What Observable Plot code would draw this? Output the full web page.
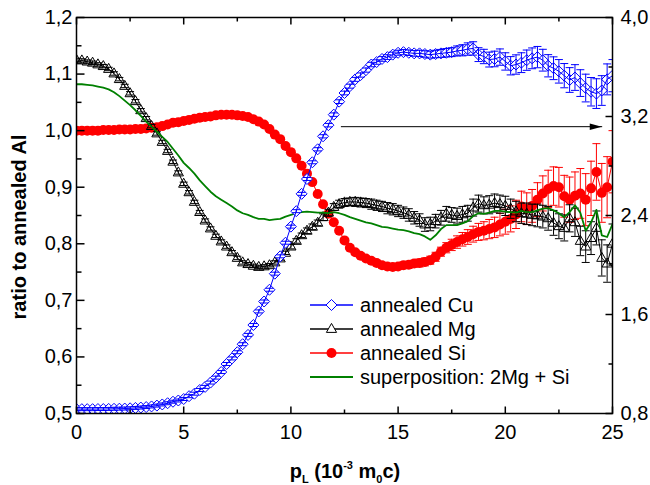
<!DOCTYPE html>
<html><head><meta charset="utf-8">
<script src="https://cdn.jsdelivr.net/npm/d3@7"></script>
<script src="https://cdn.jsdelivr.net/npm/@observablehq/plot@0.6"></script>
<style>body{margin:0;background:#fff}#chart{width:650px;height:485px}</style>
</head><body><div id="chart"></div>
<script>
// momentum p_L (10^-3 m0c)
const pL = [0,0.25,0.5,0.75,1,1.25,1.5,1.75,2,2.25,2.5,2.75,3,3.25,3.5,3.75,4,4.25,4.5,4.75,
5,5.25,5.5,5.75,6,6.25,6.5,6.75,7,7.25,7.5,7.75,8,8.25,8.5,8.75,9,9.25,9.5,9.75,
10,10.25,10.5,10.75,11,11.25,11.5,11.75,12,12.25,12.5,12.75,13,13.25,13.5,13.75,14,14.25,14.5,14.75,
15,15.25,15.5,15.75,16,16.25,16.5,16.75,17,17.25,17.5,17.75,18,18.25,18.5,18.75,19,19.25,19.5,19.75,
20,20.25,20.5,20.75,21,21.25,21.5,21.75,22,22.25,22.5,22.75,23,23.25,23.5,23.75,24,24.25,24.5,24.75,25];

// annealed Cu (right axis)
const cu = [0.835,0.835,0.835,0.835,0.836,0.836,0.837,0.838,0.839,0.840,
0.842,0.845,0.848,0.852,0.857,0.864,0.873,0.883,0.895,0.905,
0.917,0.940,0.960,0.990,1.015,1.050,1.090,1.135,1.200,1.245,
1.295,1.360,1.435,1.515,1.625,1.705,1.800,1.930,2.070,2.180,
2.310,2.435,2.575,2.695,2.830,2.935,3.040,3.130,3.215,3.320,
3.390,3.445,3.500,3.535,3.575,3.620,3.640,3.665,3.680,3.700,
3.715,3.720,3.715,3.710,3.710,3.705,3.700,3.705,3.710,3.715,
3.720,3.730,3.735,3.745,3.750,3.700,3.685,3.660,3.665,3.680,
3.645,3.610,3.620,3.635,3.655,3.670,3.680,3.655,3.610,3.590,
3.565,3.530,3.495,3.515,3.470,3.430,3.400,3.385,3.410,3.500,
3.530];
const cuErr = [0.012,0.012,0.012,0.012,0.012,0.012,0.012,0.012,0.012,0.012,
0.012,0.012,0.012,0.012,0.012,0.012,0.012,0.012,0.012,0.012,
0.012,0.012,0.012,0.012,0.012,0.012,0.012,0.012,0.012,0.012,
0.012,0.012,0.012,0.012,0.012,0.012,0.012,0.012,0.012,0.012,
0.012,0.012,0.012,0.012,0.012,0.013,0.013,0.014,0.014,0.015,
0.015,0.016,0.016,0.017,0.017,0.018,0.018,0.019,0.019,0.020,
0.020,0.021,0.022,0.023,0.025,0.026,0.028,0.030,0.032,0.034,
0.036,0.040,0.045,0.050,0.054,0.056,0.058,0.060,0.063,0.066,
0.070,0.074,0.078,0.080,0.082,0.084,0.086,0.088,0.090,0.092,
0.095,0.098,0.100,0.104,0.108,0.112,0.115,0.120,0.120,0.125,
0.130];

// annealed Mg (left axis)
const mg = [1.125,1.124,1.122,1.120,1.117,1.114,1.109,1.101,1.091,1.079,
1.066,1.052,1.036,1.022,1.008,0.995,0.980,0.964,0.945,0.926,
0.906,0.891,0.874,0.856,0.841,0.827,0.814,0.804,0.795,0.785,
0.775,0.767,0.764,0.761,0.759,0.760,0.762,0.767,0.774,0.784,
0.795,0.805,0.815,0.823,0.830,0.837,0.847,0.855,0.865,0.870,
0.873,0.874,0.874,0.873,0.872,0.870,0.868,0.866,0.863,0.861,
0.858,0.855,0.851,0.846,0.842,0.834,0.835,0.840,0.846,0.853,
0.851,0.849,0.852,0.854,0.864,0.871,0.868,0.869,0.872,0.870,
0.867,0.862,0.857,0.854,0.853,0.851,0.850,0.848,0.845,0.837,
0.831,0.828,0.845,0.838,0.805,0.795,0.810,0.828,0.775,0.765,
0.800];
const mgErr = [0.003,0.003,0.003,0.003,0.003,0.003,0.003,0.003,0.003,0.003,
0.003,0.003,0.003,0.003,0.003,0.003,0.003,0.003,0.003,0.003,
0.003,0.003,0.003,0.003,0.003,0.003,0.003,0.003,0.003,0.003,
0.003,0.003,0.003,0.003,0.003,0.003,0.003,0.003,0.003,0.003,
0.004,0.004,0.004,0.005,0.005,0.005,0.006,0.006,0.006,0.007,
0.007,0.007,0.008,0.008,0.008,0.009,0.009,0.009,0.010,0.010,
0.010,0.010,0.011,0.011,0.011,0.012,0.012,0.012,0.013,0.013,
0.013,0.014,0.014,0.014,0.015,0.015,0.015,0.016,0.016,0.016,
0.017,0.017,0.018,0.018,0.019,0.019,0.020,0.020,0.021,0.022,
0.022,0.023,0.024,0.025,0.026,0.028,0.029,0.030,0.032,0.033,
0.035];

// annealed Si (left axis)
const si = [1.000,1.000,1.000,1.000,1.000,1.001,1.001,1.001,1.002,1.002,
1.002,1.003,1.003,1.004,1.005,1.006,1.008,1.011,1.014,1.015,
1.017,1.019,1.021,1.023,1.024,1.025,1.027,1.028,1.028,1.028,
1.027,1.026,1.024,1.020,1.016,1.011,1.003,0.993,0.985,0.973,
0.962,0.951,0.938,0.924,0.909,0.888,0.870,0.853,0.838,0.823,
0.806,0.793,0.785,0.779,0.774,0.770,0.766,0.762,0.760,0.759,
0.760,0.762,0.763,0.765,0.766,0.768,0.771,0.777,0.786,0.793,
0.798,0.803,0.808,0.812,0.817,0.821,0.823,0.826,0.829,0.834,
0.839,0.844,0.852,0.866,0.862,0.867,0.878,0.889,0.897,0.902,
0.900,0.884,0.878,0.885,0.889,0.878,0.898,0.927,0.890,0.900,
0.945];
const siErr = [0.002,0.002,0.002,0.002,0.002,0.002,0.002,0.002,0.002,0.002,
0.002,0.002,0.002,0.002,0.002,0.002,0.002,0.002,0.002,0.002,
0.002,0.002,0.002,0.002,0.002,0.002,0.002,0.002,0.002,0.002,
0.002,0.002,0.002,0.002,0.002,0.002,0.002,0.002,0.002,0.002,
0.002,0.002,0.002,0.002,0.002,0.003,0.003,0.003,0.003,0.003,
0.003,0.003,0.004,0.004,0.004,0.004,0.005,0.005,0.005,0.005,
0.005,0.006,0.006,0.006,0.007,0.007,0.007,0.008,0.008,0.009,
0.010,0.011,0.012,0.013,0.014,0.015,0.016,0.017,0.018,0.020,
0.022,0.023,0.025,0.027,0.028,0.029,0.030,0.031,0.033,0.034,
0.035,0.037,0.040,0.042,0.044,0.046,0.048,0.050,0.052,0.054,
0.055];

// superposition: 2Mg + Si (left axis)
const sup = [1.082,1.082,1.081,1.080,1.078,1.076,1.073,1.068,1.061,1.053,
1.045,1.036,1.026,1.016,1.007,0.998,0.989,0.980,0.968,0.956,
0.943,0.934,0.924,0.912,0.902,0.892,0.884,0.878,0.872,0.866,
0.859,0.854,0.851,0.847,0.844,0.844,0.842,0.843,0.844,0.848,
0.851,0.854,0.856,0.857,0.856,0.855,0.855,0.854,0.856,0.854,
0.851,0.847,0.844,0.841,0.838,0.836,0.833,0.830,0.829,0.827,
0.825,0.824,0.822,0.819,0.817,0.813,0.807,0.815,0.826,0.833,
0.833,0.833,0.836,0.840,0.849,0.854,0.853,0.855,0.858,0.858,
0.857,0.856,0.855,0.858,0.856,0.856,0.859,0.862,0.863,0.859,
0.854,0.847,0.856,0.868,0.855,0.823,0.838,0.860,0.815,0.812,
0.835];

// axis ticks
const xMajor = [0,5,10,15,20,25];
const xMinor = [2.5,7.5,12.5,17.5,22.5];
const yMajor = [0.5,0.6,0.7,0.8,0.9,1.0,1.1,1.2];
const yMinor = [0.55,0.65,0.75,0.85,0.95,1.05,1.15];
const rMajor = [0.8,1.6,2.4,3.2,4.0];
const rMinor = [1.2,2.0,2.8,3.6];

// arrow annotation (points to right axis)
const arrowX = [12.35,24.5];
const arrowY = [1.007,1.007];

const legendLabels = ["annealed Cu","annealed Mg","annealed Si","superposition: 2Mg + Si"];

const BLUE = "#0000ff", RED = "#ff0000", GREEN = "#008000", BLACK = "#000000";

const toLeft = r => 0.5 + (r - 0.8) * 0.7 / 3.2;
const fromLeft = v => 0.8 + (v - 0.5) * 3.2 / 0.7;
const fmt = v => v.toFixed(1).replace(".", ",");

const poly = pts => ({draw(ctx){ctx.moveTo(pts[0][0],pts[0][1]); for (let i=1;i<pts.length;i++) ctx.lineTo(pts[i][0],pts[i][1]); ctx.closePath();}});
const seg = (x1,y1,x2,y2) => ({draw(ctx){ctx.moveTo(x1,y1); ctx.lineTo(x2,y2);}});
const diamondSym = poly([[0,-5.5],[5.5,0],[0,5.5],[-5.5,0]]);
const triSym = poly([[0,-5.6],[5.1,3.4],[-5.1,3.4]]);
const capSym = seg(-4,0,4,0);
const headSym = poly([[0,0],[-12,-3.3],[-12,3.3]]);

const mk = (vals, errs, conv) => pL.map((x,i) => ({x, y: conv(vals[i]), lo: conv(vals[i]-errs[i]), hi: conv(vals[i]+errs[i])}));
const id = v => v;
const cuD = mk(cu, cuErr, toLeft);
const mgD = mk(mg, mgErr, id);
const siD = mk(si, siErr, id);
const supD = pL.map((x,i) => ({x, y: sup[i]}));
const arrowD = arrowX.map((x,i) => ({x, y: arrowY[i]}));

function errMarks(D, color) {
  return [
    Plot.ruleX(D, {x:"x", y1:"lo", y2:"hi", stroke:color, strokeWidth:1, clip:true}),
    Plot.dot(D, {x:"x", y:"hi", symbol:capSym, stroke:color, fill:"none", strokeWidth:1, clip:true}),
    Plot.dot(D, {x:"x", y:"lo", symbol:capSym, stroke:color, fill:"none", strokeWidth:1, clip:true})
  ];
}

const SW = 1.5;
// inward tick marks drawn as symbols anchored on the frame edges
const tickMarks = (vals, side, len) => {
  const s = side === "bottom" ? seg(0,0,0,-len) : side === "top" ? seg(0,0,0,len)
          : side === "left" ? seg(0,0,len,0) : seg(0,0,-len,0);
  const ch = (side === "bottom" || side === "top") ? {x: d => d} : {y: d => d};
  return Plot.dot(vals, {...ch, frameAnchor: side, symbol: s, stroke: BLACK, fill: "none", strokeWidth: SW});
};

const chart = Plot.plot({
  width: 650, height: 485,
  marginLeft: 76, marginRight: 38, marginTop: 17, marginBottom: 72,
  x: {domain: [0,25], label: null},
  y: {domain: [0.5,1.2], label: null},
  style: {fontFamily: "'Liberation Sans', Arial, sans-serif", fontSize: "20px", background: "white", color: "black", overflow: "visible"},
  marks: [
    // Si
    Plot.line(siD, {x:"x", y:"y", stroke:RED, strokeWidth:1, clip:true}),
    ...errMarks(siD, RED),
    Plot.dot(siD, {x:"x", y:"y", r:5, fill:RED, stroke:"none", clip:true}),
    // Mg
    Plot.line(mgD, {x:"x", y:"y", stroke:BLACK, strokeWidth:1, clip:true}),
    ...errMarks(mgD, BLACK),
    Plot.dot(mgD, {x:"x", y:"y", symbol:triSym, fill:"none", stroke:BLACK, strokeWidth:1, clip:true}),
    // superposition
    Plot.line(supD, {x:"x", y:"y", stroke:GREEN, strokeWidth:1.8, clip:true}),
    // Cu
    Plot.dot(cuD, {x:"x", y:"y", symbol:diamondSym, fill:"white", stroke:BLUE, strokeWidth:1, clip:true}),
    Plot.line(cuD, {x:"x", y:"y", stroke:BLUE, strokeWidth:1, clip:true}),
    ...errMarks(cuD, BLUE),
    // arrow
    Plot.line(arrowD, {x:"x", y:"y", stroke:BLACK, strokeWidth:1}),
    Plot.dot(arrowD.slice(1), {x:"x", y:"y", symbol:headSym, fill:BLACK, stroke:"none"}),
    // frame
    Plot.frame({stroke:BLACK, strokeWidth:SW}),
    // ticks (inward)
    tickMarks(xMajor, "bottom", 7), tickMarks(xMinor, "bottom", 4),
    tickMarks(xMajor, "top", 7), tickMarks(xMinor, "top", 4),
    tickMarks(yMajor, "left", 8), tickMarks(yMinor, "left", 5),
    tickMarks(rMajor.map(toLeft), "right", 7), tickMarks(rMinor.map(toLeft), "right", 4),
    // tick labels
    Plot.axisX(xMajor, {anchor:"bottom", tickSize:0, tickPadding:11, label:null, tickFormat:d=>String(d), fontSize:20, fill:BLACK}),
    Plot.axisY(yMajor, {anchor:"left", tickSize:0, tickPadding:4, label:null, tickFormat:fmt, fontSize:20, fill:BLACK}),
    Plot.axisY(rMajor.map(toLeft), {anchor:"right", tickSize:0, tickPadding:8, label:null, tickFormat:v=>fmt(fromLeft(v)), fontSize:20, fill:BLACK})
  ]
});
document.getElementById("chart").appendChild(chart);

const svg = d3.select(chart);
const FF = "'Liberation Sans', Arial, sans-serif";
// y title
svg.append("text").attr("transform","translate(26,227) rotate(-90)")
  .attr("text-anchor","middle").attr("font-family",FF).attr("font-weight","bold").attr("font-size",20)
  .attr("fill","black").text("ratio to annealed Al");
// x title
const xt = svg.append("text").attr("x",345).attr("y",478).attr("text-anchor","middle")
  .attr("font-family",FF).attr("font-weight","bold").attr("font-size",20).attr("fill","black");
xt.append("tspan").text("p");
xt.append("tspan").attr("font-size",11).attr("dy",5).text("L");
xt.append("tspan").attr("dy",-5).text(" (10");
xt.append("tspan").attr("font-size",11).attr("dy",-9).text("-3");
xt.append("tspan").attr("dy",9).text(" m");
xt.append("tspan").attr("font-size",11).attr("dy",5).text("0");
xt.append("tspan").attr("dy",-5).text("c)");

// legend
const legColors = [BLUE, BLACK, RED, GREEN];
const legSyms = [diamondSym, triSym, "circle", null];
const lg = svg.append("g").attr("font-family",FF).attr("font-size",20).attr("text-anchor","start");
legendLabels.forEach((lab,i) => {
  const cy = 305 + 24*i;
  lg.append("line").attr("x1",310).attr("x2",353).attr("y1",cy).attr("y2",cy)
    .attr("stroke",legColors[i]).attr("stroke-width", i===3 ? 1.8 : 1.5);
  if (legSyms[i] === "circle") {
    lg.append("circle").attr("cx",331.5).attr("cy",cy).attr("r",5).attr("fill",RED);
  } else if (legSyms[i]) {
    lg.append("path").attr("transform",`translate(331.5,${cy})`)
      .attr("d", d3.symbol(legSyms[i])()).attr("fill","white").attr("stroke",legColors[i]).attr("stroke-width",1);
  }
  lg.append("text").attr("x",360).attr("y",cy+7).attr("fill","black").attr("text-anchor","start").text(lab);
});
</script></body></html>
